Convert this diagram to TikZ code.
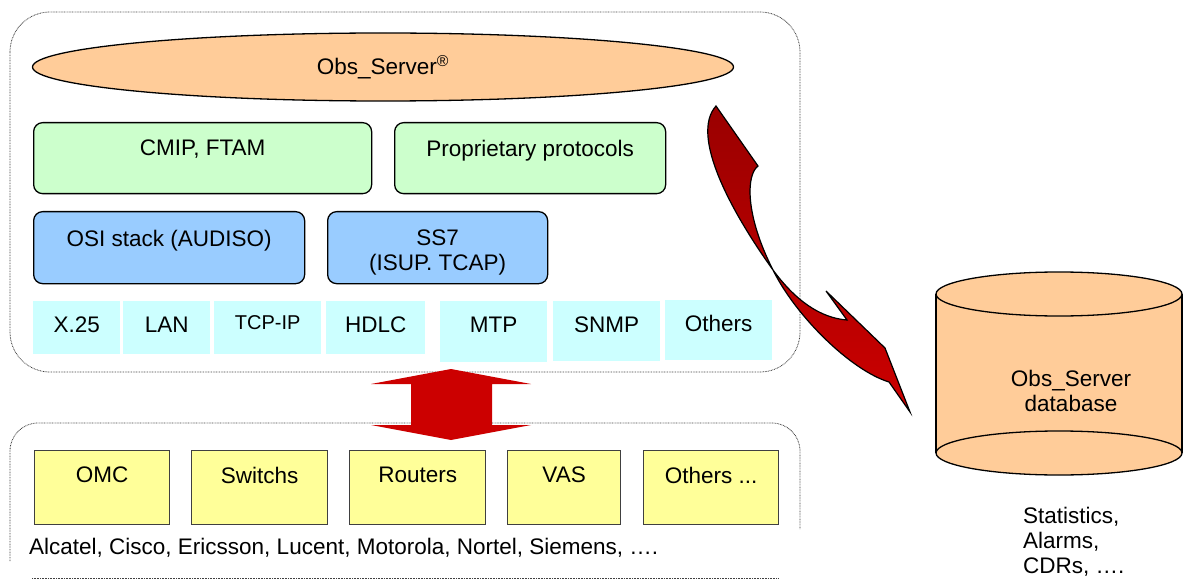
\documentclass[tikz,border=0pt]{standalone}
\usepackage{fontspec}
\setmainfont{Liberation Sans}
\usetikzlibrary{shapes.geometric, positioning}

\definecolor{serverOrange}{HTML}{FFCC99}
\definecolor{protoGreen}{HTML}{CCFFCC}
\definecolor{stackBlue}{HTML}{99CCFF}
\definecolor{linkCyan}{HTML}{CCFFFF}
\definecolor{equipYellow}{HTML}{FFFF99}
\definecolor{flowRed}{HTML}{CC0000}
\definecolor{flowDark}{HTML}{9A0000}

\begin{document}
\begin{tikzpicture}[
    x=1pt, y=-1pt,
    every node/.style={
        font=\fontsize{22.5}{26}\selectfont,
        text centered,
        },
    frame/.style={draw=black!75, line width=0.8pt, dash pattern=on 0.8pt off 0.8pt},
    topText/.style 2 args={label={[anchor=north, inner sep=0pt, yshift=-#2, align=center]north:{#1}}},
    protoBox/.style={draw, line width=1.3pt, rounded corners=9pt, fill=protoGreen, anchor=north west, minimum height=71pt},
    stackBox/.style={draw, line width=1.3pt, rounded corners=9pt, fill=stackBlue, anchor=north west, minimum height=72pt},
    linkBox/.style={fill=linkCyan, anchor=north west, inner sep=0pt, minimum height=53pt},
    equipBox/.style={draw=black!75, line width=1.3pt, fill=equipYellow, anchor=north west, minimum height=74pt},
    ]
    \useasboundingbox (0,0) rectangle (1183,580);

    % containers
    \draw[frame, rounded corners=40pt] (10,12) rectangle (800,372);
    \draw[frame, rounded corners=28pt] (10,561) -- (10,423) -- (800,423) -- (800,529);
    \draw[frame] (32,578) -- (779,578);

    \node[ellipse, draw, line width=1.3pt, fill=serverOrange, minimum width=701pt, minimum height=68pt] (obsServer) at (383,67) {Obs\_Server\textsuperscript{®}};

    \node[protoBox, minimum width=338pt, topText={CMIP, FTAM}{18pt}] (cmip) at (33,122) {};
    \node[protoBox, minimum width=271pt, topText={Proprietary protocols}{18pt}] (proprietary) at (394,122) {};

    \node[stackBox, minimum width=271pt, topText={OSI stack (AUDISO)}{19pt}] (osi) at (33,211) {};
    \node[stackBox, minimum width=220pt, topText={SS7\\[-1pt](ISUP. TCAP)}{19pt}] (ss7) at (327,211) {};

    \node[linkBox, minimum width=87pt, topText={X.25}{16pt}] (x25) at (33,301) {};
    \node[linkBox, minimum width=87pt, topText={LAN}{16pt}] (lan) at (123,301) {};
    \node[linkBox, minimum width=107pt, topText={\fontsize{20}{24}\selectfont TCP-IP}{14pt}] (tcpip) at (214,301) {};
    \node[linkBox, minimum width=99pt, topText={HDLC}{16pt}] (hdlc) at (326,301) {};
    \node[linkBox, minimum width=107pt, minimum height=61pt, topText={MTP}{16pt}] (mtp) at (440,301) {};
    \node[linkBox, minimum width=107pt, minimum height=60pt, topText={SNMP}{16pt}] (snmp) at (553,301) {};
    \node[linkBox, minimum width=107pt, minimum height=60pt, topText={Others}{15pt}] (linkOthers) at (665,300) {};

    % up/down arrow between the two layers
    \fill[flowRed] (451,369) -- (531,384) -- (492,384) -- (492,425) -- (531,425) -- (451,440) -- (371,425) -- (411,425) -- (411,384) -- (371,384) -- cycle;

    \node[equipBox, minimum width=135pt, topText={OMC}{17pt}] (omc) at (34,450) {};
    \node[equipBox, minimum width=136pt, topText={Switchs}{17pt}] (switchs) at (191,450) {};
    \node[equipBox, minimum width=136pt, topText={Routers}{17pt}] (routers) at (349,450) {};
    \node[equipBox, minimum width=113pt, topText={VAS}{17pt}] (vas) at (507,450) {};
    \node[equipBox, minimum width=135pt, topText={Others ...}{17pt}] (equipOthers) at (643,450) {};

    \node[anchor=base west, inner sep=0pt] (vendors) at (29,554) {Alcatel, Cisco, Ericsson, Lucent, Motorola, Nortel, Siemens, ….};

    % twisted arrow to the database
    \shadedraw[line width=1.2pt, line join=miter, top color=flowDark, bottom color=flowRed]
        (716,106) -- (758,166) .. controls (746,175) and (745,215) .. (773,270)
        .. controls (795,300) and (820,318) .. (847,320) -- (826,291) -- (885,348) -- (910,412) -- (889,382)
        .. controls (850,370) and (795,315) .. (773,270)
        .. controls (730,210) and (690,135) .. (716,106) -- cycle;

    % database cylinder
    \fill[serverOrange] (936,294) rectangle (1182,453);
    \filldraw[fill=serverOrange, line width=1.3pt] (1059,453) ellipse [x radius=123, y radius=22];
    \draw[line width=1.3pt] (936,294) -- (936,453);
    \draw[line width=1.3pt] (1182,294) -- (1182,453);
    \filldraw[fill=serverOrange, line width=1.3pt] (1059,294) ellipse [x radius=123, y radius=22];
    \node[align=center, font=\fontsize{22.5}{25}\selectfont] (database) at (1071,390.5) {Obs\_Server\\database};

    \node[anchor=north west, inner sep=0pt, align=left, font=\fontsize{22.5}{25}\selectfont] (contents) at (1023,507) {Statistics,\\Alarms,\\CDRs, ….};
\end{tikzpicture}
\end{document}
